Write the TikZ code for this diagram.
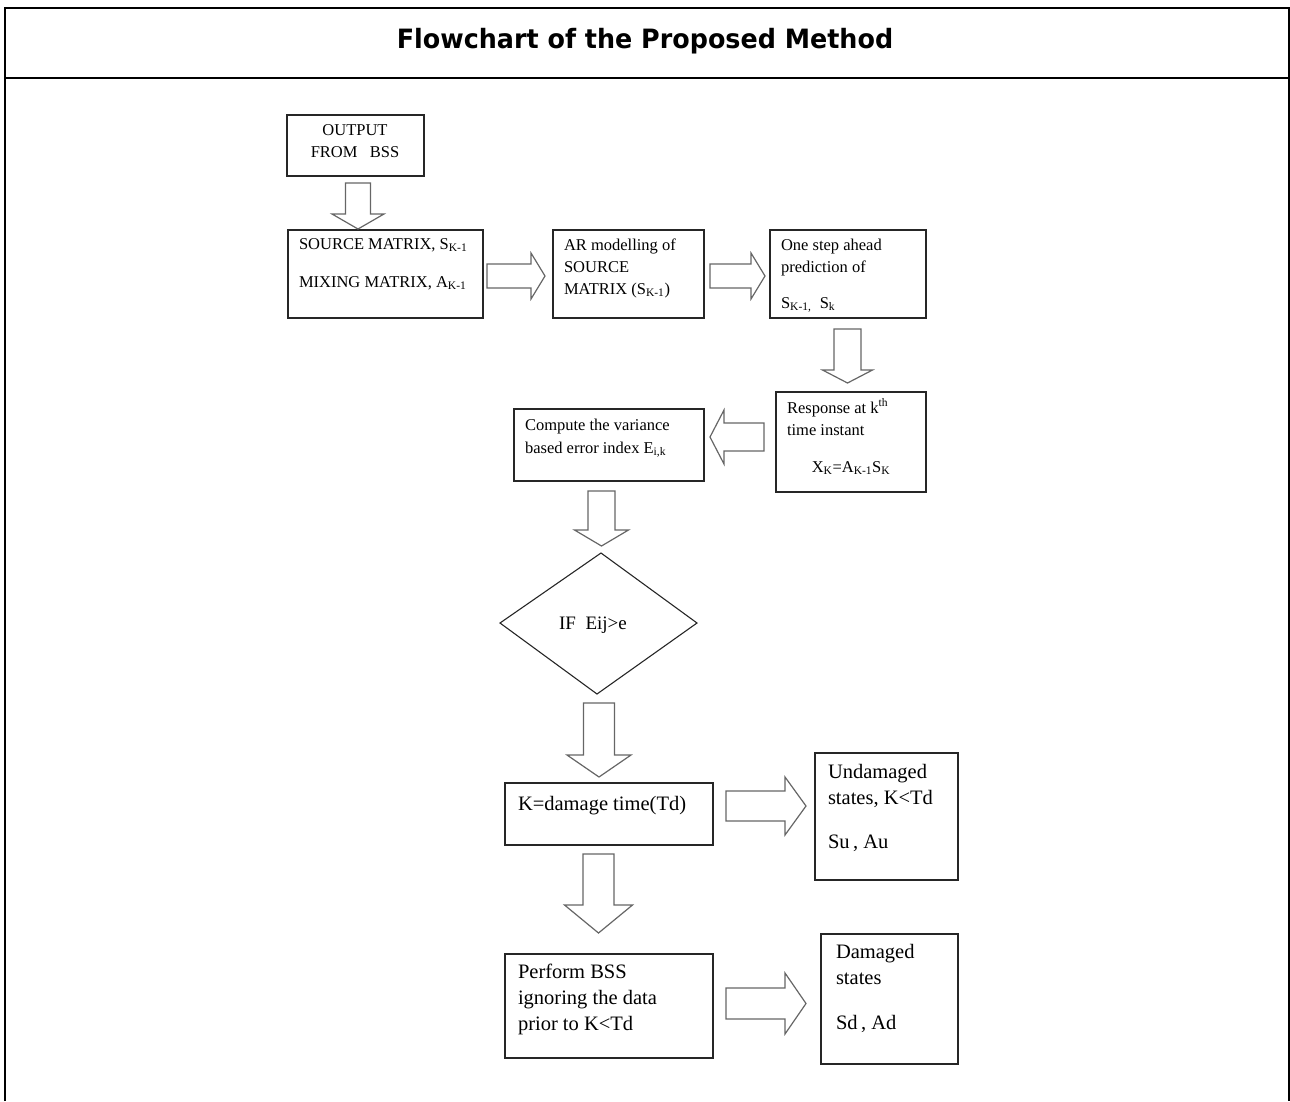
\documentclass[tikz,border=0pt]{standalone}
\usepackage{fontspec}
\setmainfont{Liberation Serif}
\newfontfamily\titlefont{DejaVu Sans}
\newcommand\blockdown[6]{\draw[barrow] ({#1-#2},#4) -- ({#1+#2},#4) -- ({#1+#2},#5) -- ({#1+#3},#5) -- (#1,#6) -- ({#1-#3},#5) -- ({#1-#2},#5) -- cycle;}
\newcommand\blockhoriz[6]{\draw[barrow] (#4,{#1-#2}) -- (#5,{#1-#2}) -- (#5,{#1-#3}) -- (#6,#1) -- (#5,{#1+#3}) -- (#5,{#1+#2}) -- (#4,{#1+#2}) -- cycle;}
\begin{document}
\begin{tikzpicture}[x=1pt,y=-1pt,
  frame/.style={draw=black, line width=1.3pt},
  box/.style={draw=black!85, line width=1.1pt, inner sep=0pt, outer sep=0pt},
  barrow/.style={draw=black!60, line width=1.2pt, line join=miter},
  txt/.style={inner sep=0pt, outer sep=0pt, font=\fontsize{16.5}{19}\selectfont},
  big/.style={inner sep=0pt, outer sep=0pt, font=\fontsize{20.5}{24}\selectfont}]
\useasboundingbox (0,0) rectangle (1290,1101);
% frame
\draw[frame] (5,1101) -- (5,8) -- (1289,8) -- (1289,1101);
\draw[frame] (5,78) -- (1289,78);
\node[inner sep=0pt, anchor=base] (title) at (645,48)
  {\scalebox{0.955}[1]{\titlefont\bfseries\fontsize{26.6}{30}\selectfont Flowchart of the Proposed Method}};
% boxes
\node[box, minimum width=137pt, minimum height=61pt] (b1) at (355.5,145.5) {};
\node[box, minimum width=195pt, minimum height=88pt] (b2) at (385.5,274) {};
\node[box, minimum width=151pt, minimum height=88pt] (b3) at (628.5,274) {};
\node[box, minimum width=156pt, minimum height=88pt] (b4) at (848,274) {};
\node[box, minimum width=150pt, minimum height=100pt] (b5) at (851,442) {};
\node[box, minimum width=190pt, minimum height=72pt] (b6) at (609,445) {};
\node[box, minimum width=208pt, minimum height=62pt] (b8) at (609,814) {};
\node[box, minimum width=143pt, minimum height=127pt] (b9) at (886.5,816.5) {};
\node[box, minimum width=208pt, minimum height=104pt] (b10) at (609,1006) {};
\node[box, minimum width=137pt, minimum height=130pt] (b11) at (889.5,999) {};
% diamond
\coordinate (dt) at (601,553);
\coordinate (dr) at (697,623);
\coordinate (db) at (597,694);
\coordinate (dl) at (500,623);
\draw[box] (dt) -- (dr) -- (db) -- (dl) -- cycle;
% texts
\node[txt, anchor=base] (t1a) at (355,135) {OUTPUT};
\node[txt, anchor=base] (t1b) at (355,157) {FROM\ \ \ BSS};
\node[txt, anchor=base west] (t2a) at (299,249) {SOURCE MATRIX, S\textsubscript{K-1}};
\node[txt, anchor=base west] (t2b) at (299,287) {MIXING MATRIX, A\textsubscript{K-1}};
\node[txt, anchor=base west] (t3a) at (564,250) {AR modelling of};
\node[txt, anchor=base west] (t3b) at (564,272) {SOURCE};
\node[txt, anchor=base west] (t3c) at (564,294) {MATRIX (S\textsubscript{K-1})};
\node[txt, anchor=base west] (t4a) at (781,250) {One step ahead};
\node[txt, anchor=base west] (t4b) at (781,272) {prediction of};
\node[txt, anchor=base west] (t4c) at (781,308) {S\textsubscript{K-1,}\ \ S\textsubscript{k}};
\node[txt, anchor=base west] (t5a) at (787,413) {Response at k\textsuperscript{th}};
\node[txt, anchor=base west] (t5b) at (787,435) {time instant};
\node[txt, anchor=base] (t5c) at (851,472) {X\textsubscript{K}=A\textsubscript{K-1}S\textsubscript{K}};
\node[txt, anchor=base west] (t6a) at (525,430) {Compute the variance};
\node[txt, anchor=base west] (t6b) at (525,453) {based error index E\textsubscript{i,k}};
\node[inner sep=0pt, anchor=base, font=\fontsize{19}{22}\selectfont] (t7) at (593,629) {IF\ \ Eij>e};
\node[big, anchor=base west] (t8) at (518,810) {K=damage time(Td)};
\node[big, anchor=base west] (t9a) at (828,778) {Undamaged};
\node[big, anchor=base west] (t9b) at (828,804) {states, K<Td};
\node[big, anchor=base west] (t9c) at (828,848) {Su\,, Au};
\node[big, anchor=base west] (t10a) at (518,978) {Perform BSS};
\node[big, anchor=base west] (t10b) at (518,1004) {ignoring the data};
\node[big, anchor=base west] (t10c) at (518,1030) {prior to K<Td};
\node[big, anchor=base west] (t11a) at (836,958) {Damaged};
\node[big, anchor=base west] (t11b) at (836,984) {states};
\node[big, anchor=base west] (t11c) at (836,1029) {Sd\,, Ad};
% block arrows
\blockdown{358}{12.5}{26}{183}{214}{229}
\blockhoriz{276}{12}{23}{487}{531}{545}
\blockhoriz{276}{12}{23}{710}{751}{765}
\blockdown{847.5}{13.5}{25}{329}{370}{383}
\blockhoriz{437}{14}{27}{764}{724}{710}
\blockdown{601.5}{13.5}{27}{491}{530}{546}
\blockdown{599}{15.5}{32}{703}{755}{777}
\blockhoriz{806}{15}{29}{726}{785}{806}
\blockdown{598.5}{15.5}{34}{854}{905}{933}
\blockhoriz{1003.5}{15.5}{30.5}{726}{785}{806}
\end{tikzpicture}
\end{document}
